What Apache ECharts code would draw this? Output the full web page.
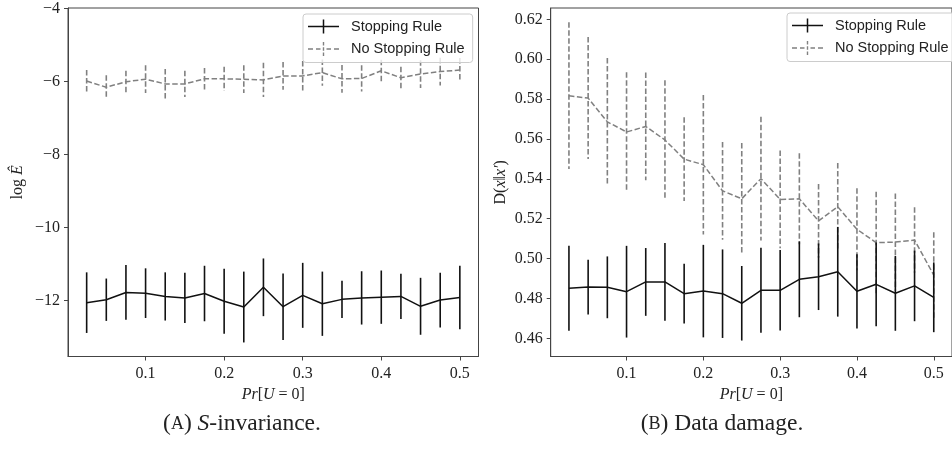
<!DOCTYPE html>
<html><head><meta charset="utf-8">
<script src="https://cdn.jsdelivr.net/npm/echarts@6/dist/echarts.min.js"></script>
<style>html,body{margin:0;padding:0;background:#fff}#c{width:952px;height:449px}</style>
</head><body><div id="c"></div>
<script>
// ---- data ----
const prU = [0.025,0.05,0.075,0.1,0.125,0.15,0.175,0.2,0.225,0.25,0.275,0.3,0.325,0.35,0.375,0.4,0.425,0.45,0.475,0.5];
const tickX = [0.1,0.2,0.3,0.4,0.5];
const tickYA = [-12,-10,-8,-6,-4];
const tickYB = [0.46,0.48,0.50,0.52,0.54,0.56,0.58,0.60,0.62];

const logE_stop     = [-12.06,-11.98,-11.78,-11.80,-11.89,-11.93,-11.81,-12.02,-12.18,-11.64,-12.17,-11.86,-12.09,-11.97,-11.93,-11.91,-11.89,-12.16,-11.99,-11.92];
const logE_stop_err = [0.83,0.58,0.75,0.68,0.66,0.69,0.76,0.89,0.97,0.79,0.91,0.89,0.88,0.51,0.73,0.73,0.62,0.78,0.75,0.87];
const logE_nostop     = [-5.99,-6.16,-6.01,-5.94,-6.07,-6.07,-5.93,-5.93,-5.94,-5.96,-5.85,-5.85,-5.76,-5.93,-5.92,-5.71,-5.90,-5.80,-5.73,-5.69];
const logE_nostop_err = [0.30,0.33,0.30,0.38,0.41,0.36,0.30,0.33,0.38,0.47,0.38,0.41,0.36,0.38,0.36,0.30,0.30,0.38,0.38,0.33];

const dmg_stop     = [0.4851,0.4857,0.4856,0.4834,0.4883,0.4883,0.4824,0.4837,0.4824,0.4776,0.4841,0.4841,0.4896,0.4909,0.4934,0.4836,0.4871,0.4826,0.4863,0.4806];
const dmg_stop_err = [0.0213,0.0137,0.0155,0.0230,0.0170,0.0195,0.0150,0.0232,0.0222,0.0187,0.0213,0.0202,0.0190,0.0167,0.0225,0.0186,0.0210,0.0188,0.0177,0.0175];
const dmg_nostop     = [0.5817,0.5805,0.5686,0.5635,0.5663,0.5595,0.5499,0.5471,0.5340,0.5300,0.5401,0.5297,0.5300,0.5189,0.5260,0.5147,0.5080,0.5083,0.5093,0.4917];
const dmg_nostop_err = [0.0368,0.0306,0.0320,0.0300,0.0270,0.0300,0.0210,0.0350,0.0245,0.0280,0.0310,0.0245,0.0228,0.0185,0.0220,0.0206,0.0255,0.0244,0.0164,0.0215];

const NAME_S = 'Stopping Rule', NAME_N = 'No Stopping Rule';
const BLACK = '#111', GRAY = '#808080';
const SERIF = '"Liberation Serif", serif', SANS = '"Liberation Sans", Arial, sans-serif';
const DASH = [5.5, 2.5];

// ---- helpers ----
const pts = (m) => prU.map((x, i) => [x, m[i]]);
const bars = (m, e) => prU.map((x, i) => [x, m[i] - e[i], m[i] + e[i]]);
function errRender(color, dash) {
  return function (params, api) {
    const x = api.value(0);
    const p1 = api.coord([x, api.value(2)]);
    const p2 = api.coord([x, api.value(1)]);
    return { type: 'line', shape: { x1: p1[0], y1: p1[1], x2: p2[0], y2: p2[1] },
      style: { stroke: color, lineWidth: 1.6, lineDash: dash } };
  };
}
function lineSeries(name, m, idx, color, dashed) {
  return { name, type: 'line', xAxisIndex: idx, yAxisIndex: idx, data: pts(m),
    symbol: 'none', showSymbol: false, z: dashed ? 3 : 5,
    lineStyle: { color, width: 1.5, type: dashed ? DASH : 'solid' }, itemStyle: { color } };
}
function errSeries(m, e, idx, color, dashed) {
  return { name: (dashed ? 'nsr_err' : 'sr_err') + idx, type: 'custom', xAxisIndex: idx, yAxisIndex: idx,
    data: bars(m, e), encode: { x: 0, y: [1, 2] }, z: dashed ? 2 : 4,
    renderItem: errRender(color, dashed ? DASH : null) };
}

const axisCommon = {
  axisLine: { show: true, onZero: false, lineStyle: { color: '#444', width: 1 } },
  axisTick: { show: true, inside: false, length: 4, lineStyle: { color: '#444', width: 1 } },
  splitLine: { show: false },
  axisLabel: { color: '#222', fontFamily: SERIF, fontSize: 16, margin: 8 }
};
function xAxis(idx) {
  return Object.assign({}, axisCommon, {
    type: 'value', gridIndex: idx, min: 0.00125, max: 0.52375,
    axisTick: Object.assign({}, axisCommon.axisTick, { customValues: tickX }),
    axisLabel: Object.assign({}, axisCommon.axisLabel, { customValues: tickX, margin: 9,
      formatter: (v) => (+v).toFixed(1) }),
    name: '{i|Pr}[{i|U} = 0]', nameLocation: 'middle', nameGap: 30,
    nameTextStyle: { color: '#222', fontFamily: SERIF, fontSize: 16,
      rich: { i: { fontStyle: 'italic', fontFamily: SERIF, fontSize: 16, color: '#222' } } }
  });
}

const solidIcon = 'path://M0,6.25L31,6.25L31,7.75L0,7.75Z M14.75,0L16.25,0L16.25,14L14.75,14Z';
const dashIcon = 'path://M0,6.3L5,6.3L5,7.7L0,7.7Z M8,6.3L12.5,6.3L12.5,7.7L8,7.7Z M18.5,6.3L23,6.3L23,7.7L18.5,7.7Z M26,6.3L31,6.3L31,7.7L26,7.7Z ' +
  'M14.8,0L16.2,0L16.2,3.5L14.8,3.5Z M14.8,5.25L16.2,5.25L16.2,8.75L14.8,8.75Z M14.8,10.5L16.2,10.5L16.2,14L14.8,14Z';
function legend(left, top) {
  return {
    orient: 'vertical', left, top, itemWidth: 31, itemHeight: 14, itemGap: 7.5,
    padding: [5, 8, 6, 5], backgroundColor: 'rgba(255,255,255,0.8)', borderColor: '#cccccc',
    borderWidth: 1, borderRadius: 3, selectedMode: false,
    textStyle: { fontFamily: SANS, fontSize: 14.5, color: '#222', padding: [0, 0, 0, 7] },
    data: [
      { name: NAME_S, icon: solidIcon, itemStyle: { color: BLACK } },
      { name: NAME_N, icon: dashIcon, itemStyle: { color: GRAY } }
    ], z: 50
  };
}

const chart = echarts.init(document.getElementById('c'), null, { renderer: 'canvas' });
chart.setOption({
  animation: false,
  backgroundColor: '#fff',
  grid: [
    { left: 68, top: 8, width: 410.5, height: 348.5, show: true, borderColor: '#444', borderWidth: 1, containLabel: false },
    { left: 550.7, top: 8, width: 412, height: 348.5, show: true, borderColor: '#444', borderWidth: 1, containLabel: false }
  ],
  xAxis: [xAxis(0), xAxis(1)],
  yAxis: [
    Object.assign({}, axisCommon, {
      type: 'value', gridIndex: 0, min: -13.535, max: -3.99,
      axisTick: Object.assign({}, axisCommon.axisTick, { customValues: tickYA }),
      axisLabel: Object.assign({}, axisCommon.axisLabel, { customValues: tickYA,
        formatter: (v) => String(Math.round(v)).replace('-', '\u2212') }),
      name: 'log {i|Ê}', nameLocation: 'middle', nameRotate: 90, nameGap: 42,
      nameTextStyle: { color: '#222', fontFamily: SERIF, fontSize: 16,
        rich: { i: { fontStyle: 'italic', fontFamily: SERIF, fontSize: 16, color: '#222' } } }
    }),
    Object.assign({}, axisCommon, {
      type: 'value', gridIndex: 1, min: 0.4509, max: 0.6257,
      axisTick: Object.assign({}, axisCommon.axisTick, { customValues: tickYB }),
      axisLabel: Object.assign({}, axisCommon.axisLabel, { customValues: tickYB,
        formatter: (v) => (+v).toFixed(2) }),
      name: 'D({i|x}‖{i|x′})', nameLocation: 'middle', nameRotate: 90, nameGap: 42,
      nameTextStyle: { color: '#222', fontFamily: SERIF, fontSize: 16,
        rich: { i: { fontStyle: 'italic', fontFamily: SERIF, fontSize: 16, color: '#222' } } }
    })
  ],
  legend: [legend(303, 14), legend(787, 13)],
  series: [
    errSeries(logE_nostop, logE_nostop_err, 0, GRAY, true),
    lineSeries(NAME_N, logE_nostop, 0, GRAY, true),
    errSeries(logE_stop, logE_stop_err, 0, BLACK, false),
    lineSeries(NAME_S, logE_stop, 0, BLACK, false),
    errSeries(dmg_nostop, dmg_nostop_err, 1, GRAY, true),
    lineSeries(NAME_N, dmg_nostop, 1, GRAY, true),
    errSeries(dmg_stop, dmg_stop_err, 1, BLACK, false),
    lineSeries(NAME_S, dmg_stop, 1, BLACK, false)
  ],
  graphic: [
    { type: 'text', x: 242, y: 424, z: 100,
      style: { text: '({sc|A}) {it|S}-invariance.', fill: '#222', fontFamily: SERIF, fontSize: 23.5,
        align: 'center', verticalAlign: 'middle',
        rich: { sc: { fontFamily: SERIF, fontSize: 18, fill: '#222' },
                it: { fontFamily: SERIF, fontSize: 23.5, fontStyle: 'italic', fill: '#222' } } } },
    { type: 'text', x: 722, y: 424, z: 100,
      style: { text: '({sc|B}) Data damage.', fill: '#222', fontFamily: SERIF, fontSize: 23.5,
        align: 'center', verticalAlign: 'middle',
        rich: { sc: { fontFamily: SERIF, fontSize: 18, fill: '#222' } } } }
  ]
});
</script></body></html>
